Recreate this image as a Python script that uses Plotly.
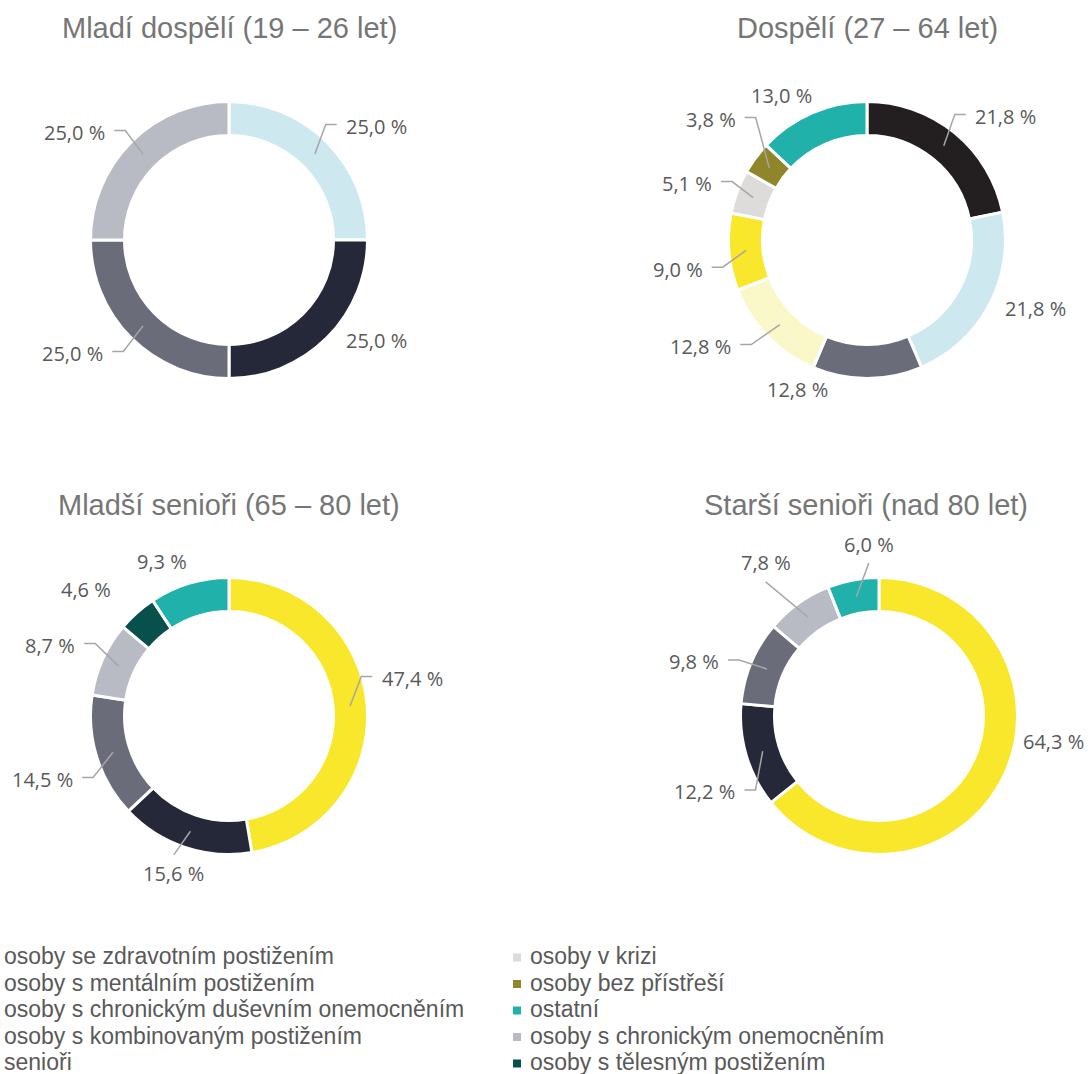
import math
import plotly.graph_objects as go

# ---------------- data ----------------
panel_titles = [
    "Mladí dospělí (19 – 26 let)",
    "Dospělí (27 – 64 let)",
    "Mladší senioři (65 – 80 let)",
    "Starší senioři (nad 80 let)",
]

young_adults_groups = [
    "osoby s mentálním postižením",
    "osoby se zdravotním postižením",
    "osoby s chronickým duševním onemocněním",
    "osoby s chronickým onemocněním",
]
young_adults_share = [25.0, 25.0, 25.0, 25.0]

adults_groups = [
    "osoby se zdravotním postižením",
    "osoby s mentálním postižením",
    "osoby s chronickým duševním onemocněním",
    "osoby s kombinovaným postižením",
    "senioři",
    "osoby v krizi",
    "osoby bez přístřeší",
    "ostatní",
]
adults_share = [21.8, 21.8, 12.8, 12.8, 9.0, 5.1, 3.8, 13.0]

younger_seniors_groups = [
    "senioři",
    "osoby se zdravotním postižením",
    "osoby s chronickým duševním onemocněním",
    "osoby s chronickým onemocněním",
    "osoby s tělesným postižením",
    "ostatní",
]
younger_seniors_share = [47.4, 15.6, 14.5, 8.7, 4.6, 9.3]

older_seniors_groups = [
    "senioři",
    "osoby se zdravotním postižením",
    "osoby s chronickým duševním onemocněním",
    "osoby s chronickým onemocněním",
    "ostatní",
]
older_seniors_share = [64.3, 12.2, 9.8, 7.8, 6.0]

legend_left = [
    "osoby se zdravotním postižením",
    "osoby s mentálním postižením",
    "osoby s chronickým duševním onemocněním",
    "osoby s kombinovaným postižením",
    "senioři",
]
legend_right = [
    "osoby v krizi",
    "osoby bez přístřeší",
    "ostatní",
    "osoby s chronickým onemocněním",
    "osoby s tělesným postižením",
]

# ---------------- styling ----------------
W, H = 1088, 1074
R_OUT, R_IN, SEP = 137.0, 106.0, 3.0
R_MID = (R_OUT + R_IN) / 2
GAP_PLAIN, GAP_LEAD = 10, 30

palette = {
    "osoby se zdravotním postižením": "#252838",
    "osoby s mentálním postižením": "#CDE9EF",
    "osoby s chronickým duševním onemocněním": "#6B6C7A",
    "osoby s kombinovaným postižením": "#FAF7C9",
    "senioři": "#F8E72B",
    "osoby v krizi": "#DEDCDB",
    "osoby bez přístřeší": "#8F852B",
    "ostatní": "#20B2AA",
    "osoby s chronickým onemocněním": "#B8BAC4",
    "osoby s tělesným postižením": "#07504B",
}
adults_palette = dict(palette, **{"osoby se zdravotním postižením": "#231F20"})

LABEL_FONT = dict(family="Open Sans", size=20, color="#595959")
TITLE_FONT = dict(family="Liberation Sans, Arial", size=29, color="#767676")
LEGEND_FONT = dict(family="Liberation Sans, Arial", size=23, color="#595959")
LEADER_COLOR = "#A6A6A6"

# panel placement (pixels) and label tweaks
panels = [
    dict(groups=young_adults_groups, values=young_adults_share, colors=palette,
         cx=229, cy=240, tx=229, ty=28,
         leader=[True, False, True, True],
         nudge=[(7, 11), (21, -10), (-16, -11), (-14, 17)]),
    dict(groups=adults_groups, values=adults_share, colors=adults_palette,
         cx=867, cy=240, tx=867, ty=28,
         leader=[True, False, False, True, True, True, True, False],
         nudge=[(13, 13), (10, -4), (-70, -7), (-24, -16), (3, 14), (1, 5), (-1, -16), (-14, -1)]),
    dict(groups=younger_seniors_groups, values=younger_seniors_share, colors=palette,
         cx=229, cy=716, tx=229, ty=505,
         leader=[True, True, True, True, False, False],
         nudge=[(-15, -23), (8, -9), (3, 11), (-3, 2), (-28, -10), (-17, -5)]),
    dict(groups=older_seniors_groups, values=older_seniors_share, colors=palette,
         cx=879, cy=716, tx=866, ty=505,
         leader=[False, True, True, True, True],
         nudge=[(13, -42), (16, 25), (-7, 14), (-1, -10), (26, 1)]),
]


def fmt(v):
    return f"{v:.1f}".replace(".", ",") + " %"


def text_width(s):
    return 12 * sum(ch.isdigit() for ch in s) + 28


fig = go.Figure()
# invisible carrier for the pixel-space overlay axes
fig.add_trace(go.Scatter(x=[0], y=[0], mode="markers", marker=dict(opacity=0),
                         hoverinfo="skip", showlegend=False))

annotations, shapes = [], []
R_DOM = R_OUT + SEP / 2

for title, p in zip(panel_titles, panels):
    cx, cy = p["cx"], p["cy"]
    fig.add_trace(go.Pie(
        labels=p["groups"], values=p["values"],
        marker=dict(colors=[p["colors"][g] for g in p["groups"]],
                    line=dict(color="white", width=SEP)),
        hole=(R_IN - SEP / 2) / R_DOM,
        sort=False, direction="clockwise", rotation=0,
        textinfo="none", showlegend=False,
        hovertemplate="%{label}: %{value:.1f} %<extra></extra>",
        domain=dict(x=[(cx - R_DOM) / W, (cx + R_DOM) / W],
                    y=[1 - (cy + R_DOM) / H, 1 - (cy - R_DOM) / H]),
    ))

    annotations.append(dict(x=p["tx"], y=p["ty"], xref="x", yref="y", text=title,
                            showarrow=False, xanchor="center", yanchor="middle",
                            font=TITLE_FONT))

    total = sum(p["values"])
    cum = 0.0
    for v, lead, (nx, ny) in zip(p["values"], p["leader"], p["nudge"]):
        th = math.radians((cum + v / 2) / total * 360)
        cum += v
        s, c = math.sin(th), math.cos(th)
        txt = fmt(v)
        w = text_width(txt)
        g = GAP_LEAD if lead else GAP_PLAIN
        lx = cx + (R_OUT + g + w / 2) * s + nx
        ly = cy - (R_OUT + g + 9) * c + ny
        annotations.append(dict(x=lx, y=ly, xref="x", yref="y", text=txt, showarrow=False,
                                xanchor="center", yanchor="middle", font=LABEL_FONT))
        if lead:
            x0, y0 = cx + R_MID * s, cy - R_MID * c
            if abs(lx - x0) > w / 2 + 20:
                side = 1 if lx > x0 else -1
                ex, ey = lx - side * (w / 2 + 8), ly - 2
                path = f"M{x0},{y0} L{ex - side * 11},{ey} L{ex},{ey}"
            else:
                sgn = 1 if ly > y0 else -1
                path = f"M{x0},{y0} L{lx},{ly - sgn * 19}"
            shapes.append(dict(type="path", path=path, xref="x", yref="y", layer="above",
                               line=dict(color=LEADER_COLOR, width=1.5)))

# legend: two columns of square markers + text
ROW0, ROW_STEP = 956, 26.5
for col_x, items in ((2, legend_left), (528, legend_right)):
    for i, name in enumerate(items):
        y = ROW0 + i * ROW_STEP
        shapes.append(dict(type="rect", xref="paper", yref="y", layer="above",
                           x0=(col_x - 15) / W, x1=(col_x - 7) / W, y0=y - 2.5, y1=y + 5.5,
                           fillcolor=palette[name], line=dict(width=0)))
        annotations.append(dict(x=col_x / W, y=y, xref="paper", yref="y", text=name,
                                showarrow=False, xanchor="left", yanchor="middle",
                                font=LEGEND_FONT))

fig.update_layout(
    width=W, height=H,
    margin=dict(l=0, r=0, t=0, b=0),
    paper_bgcolor="white", plot_bgcolor="rgba(0,0,0,0)",
    xaxis=dict(range=[0, W], visible=False, fixedrange=True, domain=[0, 1]),
    yaxis=dict(range=[H, 0], visible=False, fixedrange=True, domain=[0, 1]),
    annotations=annotations, shapes=shapes,
    showlegend=False,
)

fig.write_html("out.html")
